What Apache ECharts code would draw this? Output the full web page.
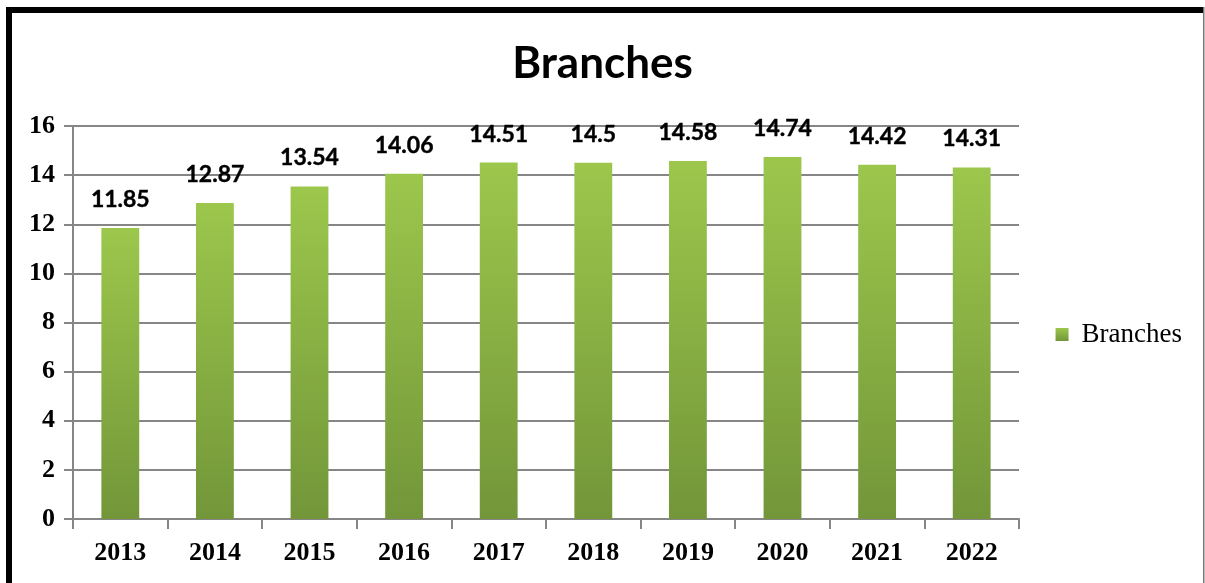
<!DOCTYPE html>
<html>
<head>
<meta charset="utf-8">
<style>
  html, body { margin: 0; padding: 0; background: #fff; }
  #chart { width: 1205px; height: 583px; }
</style>
<script src="https://cdn.jsdelivr.net/npm/echarts@6/dist/echarts.min.js"></script>
</head>
<body>
<div id="chart"></div>
<script>
// Branch counts per year
const years = ['2013', '2014', '2015', '2016', '2017', '2018', '2019', '2020', '2021', '2022'];
const branches = [11.85, 12.87, 13.54, 14.06, 14.51, 14.5, 14.58, 14.74, 14.42, 14.31];
const seriesName = 'Branches';

const chart = echarts.init(document.getElementById('chart'));

const serif = '"Liberation Serif", "Times New Roman", serif';
const sans = 'Lato, "Open Sans", sans-serif';

chart.setOption({
  animation: false,
  backgroundColor: '#ffffff',
  title: {
    text: seriesName,
    left: 'center',
    top: 37,
    textStyle: { fontFamily: sans, fontWeight: 'bold', fontSize: 44, color: '#000' }
  },
  legend: {
    data: [seriesName],
    right: 18,
    top: 316,
    orient: 'vertical',
    icon: 'rect',
    itemWidth: 13,
    itemHeight: 13,
    textStyle: { fontFamily: serif, fontSize: 27, color: '#000', padding: [0, 0, 0, 8] }
  },
  grid: { left: 73, right: 186, top: 126, bottom: 64 },
  xAxis: {
    type: 'category',
    data: years,
    boundaryGap: true,
    axisLine: { show: true, lineStyle: { color: '#868686', width: 2 } },
    axisTick: { show: true, length: 10, alignWithLabel: false, lineStyle: { color: '#868686', width: 2 } },
    axisLabel: { fontFamily: serif, fontWeight: 'bold', fontSize: 26, color: '#000', margin: 21 }
  },
  yAxis: {
    type: 'value',
    min: 0,
    max: 16,
    interval: 2,
    axisLine: { show: true, lineStyle: { color: '#868686', width: 2 } },
    axisTick: { show: true, length: 9, lineStyle: { color: '#868686', width: 2 } },
    splitLine: { show: true, lineStyle: { color: '#868686', width: 2 } },
    axisLabel: { fontFamily: serif, fontWeight: 'bold', fontSize: 26, color: '#000', margin: 18 }
  },
  series: [{
    name: seriesName,
    type: 'bar',
    data: branches,
    barWidth: '40%',
    itemStyle: {
      color: new echarts.graphic.LinearGradient(0, 0, 0, 1, [
        { offset: 0, color: '#9cc74c' },
        { offset: 1, color: '#729639' }
      ])
    },
    label: {
      show: true,
      position: 'top',
      distance: 17,
      fontFamily: sans,
      fontWeight: 'bold',
      fontSize: 23,
      color: '#000',
      textBorderColor: '#000',
      textBorderWidth: 0.4
    }
  }],
  graphic: [
    // frame: heavy black left and top edges, thin grey right edge
    { type: 'rect', shape: { x: 6, y: 7, width: 6, height: 580 }, style: { fill: '#000' }, silent: true },
    { type: 'rect', shape: { x: 6, y: 7, width: 1198, height: 6 }, style: { fill: '#000' }, silent: true },
    { type: 'rect', shape: { x: 1203, y: 7, width: 1.5, height: 580 }, style: { fill: '#777' }, silent: true }
  ]
});
</script>
</body>
</html>
